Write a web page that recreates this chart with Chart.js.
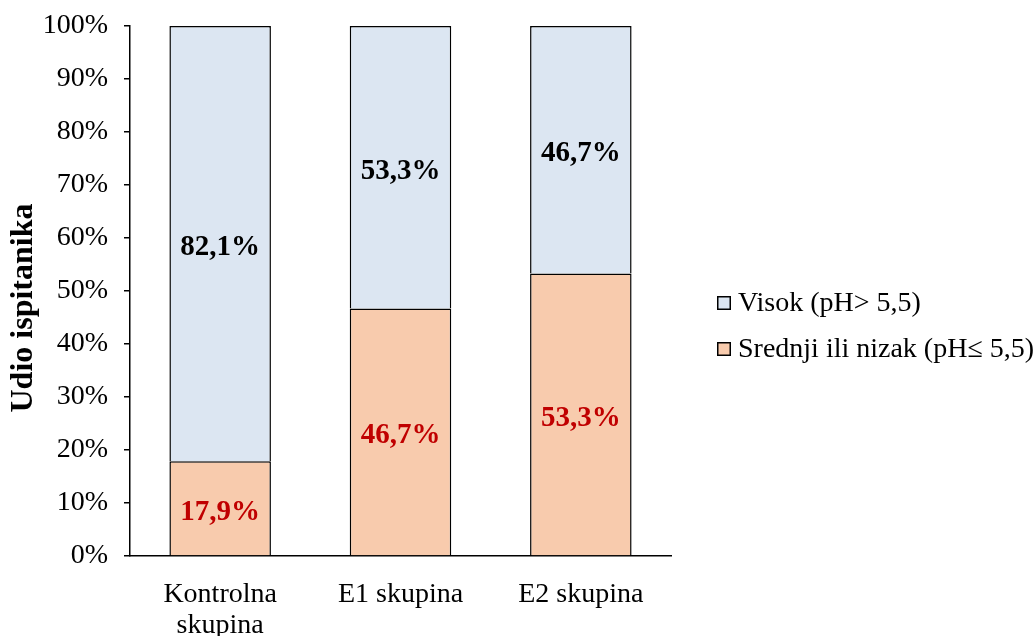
<!DOCTYPE html>
<html>
<head>
<meta charset="utf-8">
<script src="https://cdn.jsdelivr.net/npm/chart.js@4/dist/chart.umd.min.js"></script>
<style>
  html, body { margin: 0; padding: 0; background: #fff; }
  #wrap { width: 1035px; height: 636px; }
</style>
</head>
<body>
<div id="wrap"><canvas id="myChart" width="1035" height="636"></canvas></div>
<script>
var categories = [['Kontrolna', 'skupina'], 'E1 skupina', 'E2 skupina'];
var seriesNames = ['Srednji ili nizak (pH\u2264 5,5)', 'Visok (pH> 5,5)'];
var lowValues = [17.9, 46.7, 53.3];
var highValues = [82.1, 53.3, 46.7];
var yTicks = [0, 10, 20, 30, 40, 50, 60, 70, 80, 90, 100];
var yTitle = 'Udio ispitanika';

var serif = "'Liberation Serif', 'Times New Roman', serif";

function fmt(v) {
    return v.toFixed(1).replace('.', ',') + '%';
}

// labels inside each bar segment
var barLabels = {
    id: 'barLabels',
    afterDatasetsDraw: function (chart) {
        var ctx = chart.ctx;
        ctx.save();
        ctx.font = 'bold 29px ' + serif;
        ctx.textAlign = 'center';
        ctx.textBaseline = 'middle';
        chart.data.datasets.forEach(function (ds, i) {
            var meta = chart.getDatasetMeta(i);
            ctx.fillStyle = ds.labelColor;
            meta.data.forEach(function (bar, j) {
                var mid = (bar.y + bar.base) / 2;
                ctx.fillText(fmt(ds.data[j]), bar.x, mid + 4);
            });
        });
        ctx.restore();
    }
};

// legend on the right (top series first) and the rotated y title
var sideLegend = {
    id: 'sideLegend',
    afterDraw: function (chart) {
        var ctx = chart.ctx;
        var rows = chart.data.datasets.slice().reverse();
        ctx.save();
        ctx.font = '28px ' + serif;
        ctx.textBaseline = 'middle';
        ctx.textAlign = 'left';
        rows.forEach(function (ds, k) {
            var y = 303 + k * 46;
            ctx.fillStyle = ds.backgroundColor;
            ctx.fillRect(717, y - 7, 14, 14);
            ctx.strokeStyle = '#000';
            ctx.lineWidth = 1.5;
            ctx.strokeRect(717.75, y - 6.25, 12.5, 12.5);
            ctx.fillStyle = '#000';
            ctx.fillText(ds.label, 738, y + 1);
        });

        ctx.translate(24, 308);
        ctx.rotate(-Math.PI / 2);
        ctx.font = 'bold 32px ' + serif;
        ctx.textAlign = 'center';
        ctx.fillText(yTitle, 0, 0);
        ctx.restore();
    }
};

var ctx = document.getElementById('myChart').getContext('2d');
var myChart = new Chart(ctx, {
    type: 'bar',
    data: {
        labels: categories,
        datasets: [{
            label: seriesNames[0],
            data: lowValues,
            backgroundColor: '#F8CBAD',
            borderColor: '#000',
            borderWidth: 1.5,
            labelColor: '#C00000'
        }, {
            label: seriesNames[1],
            data: highValues,
            backgroundColor: '#DCE6F2',
            borderColor: '#000',
            borderWidth: 1.5,
            labelColor: '#000'
        }]
    },
    options: {
        responsive: false,
        animation: false,
        layout: { padding: { left: 0, right: 364, top: 26, bottom: 0 } },
        plugins: {
            legend: { display: false },
            tooltip: { enabled: false }
        },
        datasets: {
            bar: { barPercentage: 0.563, categoryPercentage: 1 }
        },
        scales: {
            x: {
                stacked: true,
                grid: { display: false, drawTicks: false },
                border: { display: true, color: '#000', width: 1.5 },
                ticks: {
                    color: '#000',
                    padding: 23,
                    font: { family: serif, size: 28, lineHeight: 1.1 }
                },
                afterFit: function (scale) {
                    scale.height = 80;
                    scale.paddingLeft = 0;
                    scale.paddingRight = 0;
                }
            },
            y: {
                stacked: true,
                min: 0,
                max: 100,
                afterBuildTicks: function (scale) {
                    scale.ticks = yTicks.map(function (v) { return { value: v }; });
                },
                grid: { drawOnChartArea: false, tickLength: 6, color: '#000', lineWidth: 1.5 },
                border: { display: true, color: '#000', width: 1.5 },
                ticks: {
                    color: '#000',
                    padding: 16,
                    font: { family: serif, size: 28 },
                    callback: function (v) { return v + '%'; }
                },
                afterFit: function (scale) {
                    scale.width = 130;
                    scale.paddingTop = 0;
                    scale.paddingBottom = 0;
                }
            }
        }
    },
    plugins: [barLabels, sideLegend]
});
</script>
</body>
</html>
